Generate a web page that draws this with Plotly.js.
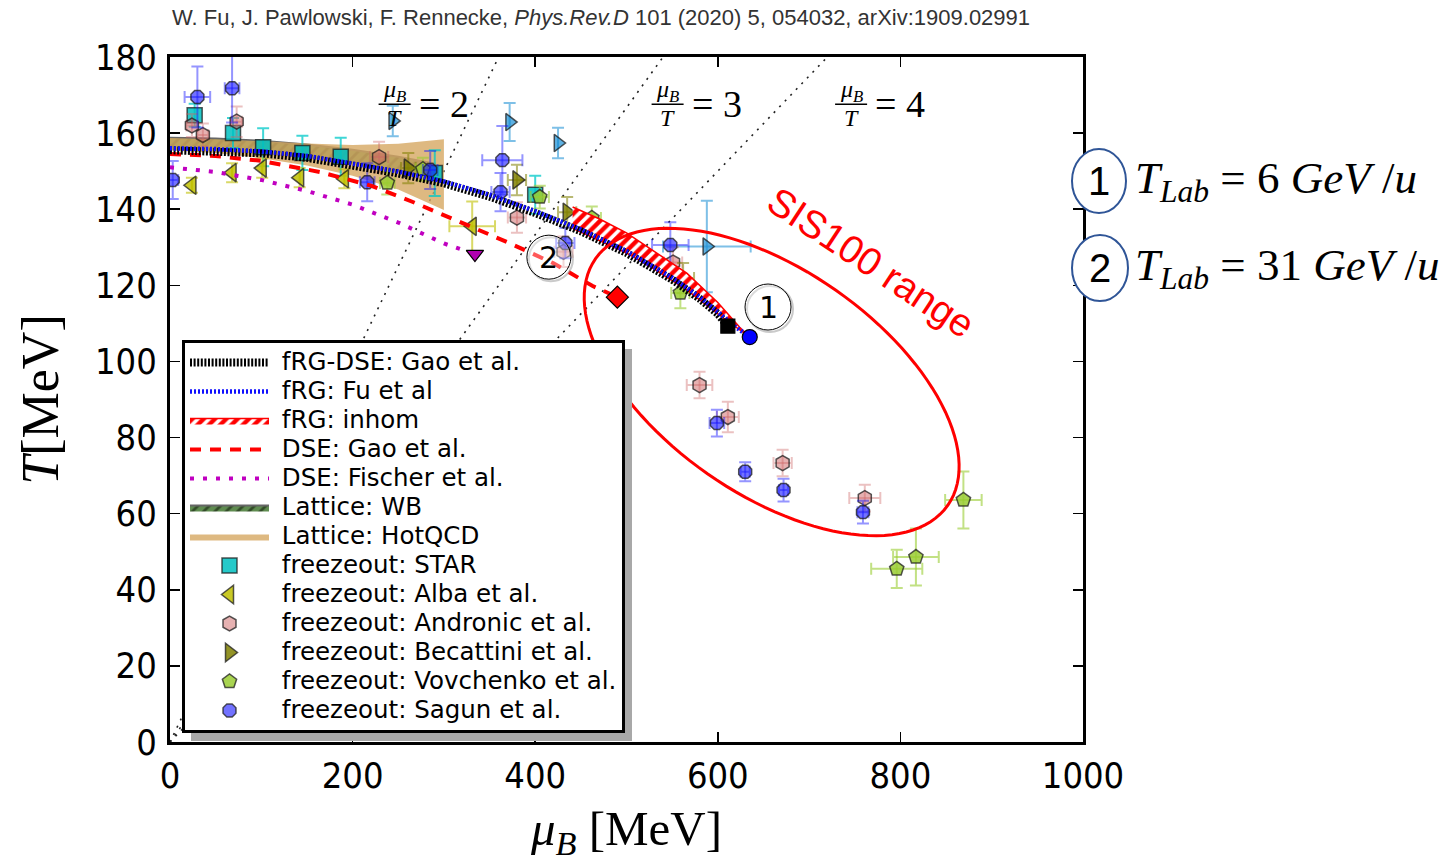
<!DOCTYPE html>
<html>
<head>
<meta charset="utf-8">
<script src="https://cdn.plot.ly/plotly-3.0.1.min.js"></script>
<style>
html, body { margin: 0; padding: 0; background: #fff; }
#chart { width: 1454px; height: 863px; }
</style>
</head>
<body>
<div id="chart"></div>
<script>
// ---------- phase boundary curves (mu_B in MeV, T in MeV) ----------
const frgDseMu = [0, 50, 100, 150, 200, 250, 300, 350, 400, 450, 500, 550, 580, 600, 611];
const frgDseT  = [155.5, 155.3, 154.7, 153.5, 151.5, 149.4, 146.8, 143.3, 139.0, 134.2, 128.5, 121.5, 116.5, 112.5, 109.3];

const frgFuMu = [0, 50, 100, 150, 200, 250, 300, 350, 400, 450, 500, 550, 580, 600, 620, 635];
const frgFuT  = [156.0, 155.8, 155.2, 154.0, 152.0, 149.9, 147.3, 143.8, 139.5, 134.7, 129.0, 122.0, 117.0, 113.0, 109.0, 106.4];

// inhomogeneous region band
const inhomMu     = [441, 470, 500, 530, 566, 600, 624, 635];
const inhomTUpper = [140.6, 137.5, 133.8, 129.0, 123.2, 115.5, 109.0, 106.4];
const inhomTLower = [135.0, 131.9, 128.5, 124.3, 118.8, 112.5, 108.3, 106.4];

const dseGaoMu = [0, 50, 100, 164, 220, 266, 318, 369, 420, 463, 490];
const dseGaoT  = [154.5, 154.0, 152.7, 149.8, 146.2, 141.9, 136.6, 131.4, 125.8, 119.8, 116.9];

const dseFischerMu = [0, 50, 100, 150, 200, 250, 300, 334];
const dseFischerT  = [151.0, 149.8, 147.7, 144.8, 141.2, 136.5, 131.0, 128.2];

// lattice bands
const wbMu = [0, 50, 100, 150, 200, 250, 290];
const wbTUpper = [158.8, 158.6, 158.0, 157.0, 155.6, 153.8, 152.0];
const wbTLower = [155.8, 155.5, 154.8, 153.6, 152.0, 150.0, 148.0];

const hotqcdMu = [0, 50, 100, 150, 200, 250, 300];
const hotqcdTUpper = [158.7, 158.4, 157.9, 157.3, 156.9, 157.2, 158.4];
const hotqcdTLower = [155.4, 154.8, 153.4, 151.5, 148.8, 145.2, 139.8];

// critical end points
const cepFrgDse = [611, 109.3];
const cepFrgFu = [635, 106.4];
const cepDseGao = [490, 116.9];
const cepDseFischer = [334, 128.2];

// constant mu_B/T lines
const ratioValues = [2, 3, 4];
const ratioLabelMu = [246, 545, 746];
const ratioLabelT = 167.6;

// ---------- chemical freeze-out data ----------
const starMu = [27, 69, 102, 145, 187, 290, 400];
const starT  = [164.7, 160.0, 156.3, 154.8, 153.8, 149.5, 143.8];
const starErrT = [3, 4, 5, 4.5, 5, 6, 5];

const albaMu = [24, 68, 101, 142, 191, 331];
const albaT  = [146.3, 149.6, 150.8, 148.3, 148.0, 135.5];
const albaErrMu = [0, 0, 0, 0, 0, 25];
const albaErrT  = [2, 2.5, 2.5, 2.5, 2.5, 6.5];

const andronicMu = [24, 36, 73, 229, 380, 431, 551, 580, 611, 671, 761];
const andronicT  = [162.0, 159.5, 163.0, 153.7, 137.8, 128.8, 126.0, 93.8, 85.4, 73.3, 64.1];
const andronicErrMu = [6, 6, 6, 10, 10, 10, 10, 14, 12, 10, 17];
const andronicErrT  = [3, 3, 4, 4, 4, 4, 4, 3.5, 4, 3.5, 3.5];

const becattiniMu = [261, 380, 435, 562];
const becattiniT  = [150.8, 147.7, 139.2, 121.9];
const becattiniErrMu = [8, 10, 10, 12];
const becattiniErrT  = [4, 4, 4, 4];

const vovchenkoMu = [238, 277, 405, 462, 559, 796, 817, 869];
const vovchenkoT  = [146.9, 150.5, 143.2, 137.7, 118.0, 45.5, 48.6, 63.6];
const vovchenkoErrMu = [8, 8, 10, 10, 10, 28, 25, 20];
const vovchenkoErrT  = [3, 3, 3, 3, 4, 5, 7.5, 7.5];

const sagunMu = [3, 30, 68, 216, 285, 362, 364, 433, 548, 599, 630, 672, 759];
const sagunT  = [147.7, 169.5, 171.8, 147.1, 150.3, 144.5, 152.9, 131.1, 130.6, 83.8, 71.0, 66.2, 60.4];
const sagunErrMu = [6, 14, 8, 8, 8, 10, 22, 10, 20, 8, 5, 5, 6];
const sagunErrT  = [5, 8, 9, 5, 5, 5, 9, 4, 6, 3.5, 2.5, 3, 3];

const extraMu = [244, 372, 425, 588];
const extraT  = [163.2, 162.9, 157.4, 130.2];
const extraErrMu = [0, 0, 0, 48];
const extraErrT  = [4, 5, 4, 12];

// axis ticks
const xTicks = [0, 200, 400, 600, 800, 1000];
const yTicks = [0, 20, 40, 60, 80, 100, 120, 140, 160, 180];

// ---------- helpers ----------
const lg = s => '<span style="font-size:24.5px">\u00a0' + s + '</span>';
const band = (mu, up, lo) => ({
  x: mu.concat(mu.slice().reverse()),
  y: up.concat(lo.slice().reverse())
});

function freezeout(name, rank, mu, T, eMu, eT, symbol, fill, errColor, size) {
  const tr = {
    type: 'scatter', mode: 'markers', name: lg(name), legendrank: rank,
    x: mu, y: T,
    marker: { symbol: symbol, size: size || 15, color: fill,
              line: { color: 'rgba(30,30,30,0.75)', width: 1.5 } },
    error_y: { type: 'data', array: eT, color: errColor, thickness: 2, width: 6 }
  };
  if (eMu) tr.error_x = { type: 'data', array: eMu, color: errColor, thickness: 2, width: 6 };
  return tr;
}

const traces = [];

// constant mu_B/T guide lines
ratioValues.forEach(r => {
  traces.push({
    type: 'scatter', mode: 'lines', showlegend: false, hoverinfo: 'skip',
    x: [0, 180 * r], y: [0, 180],
    line: { color: '#222', width: 1.6, dash: '2px,6px' }
  });
});

// lattice bands
const wb = band(wbMu, wbTUpper, wbTLower);
traces.push({
  type: 'scatter', mode: 'lines', name: lg('Lattice: WB'), legendrank: 6,
  x: wb.x, y: wb.y, fill: 'toself',
  fillcolor: 'rgb(95,140,80)',
  fillpattern: { shape: '/', bgcolor: 'rgb(95,140,80)', fgcolor: 'rgb(50,75,40)', size: 8, solidity: 0.35 },
  line: { color: '#666', width: 2 }
});
const hq = band(hotqcdMu, hotqcdTUpper, hotqcdTLower);
traces.push({
  type: 'scatter', mode: 'lines', name: lg('Lattice: HotQCD'), legendrank: 7,
  x: hq.x, y: hq.y, fill: 'toself',
  fillcolor: 'rgba(214,168,98,0.8)',
  line: { color: 'rgba(214,170,100,0.0)', width: 0 }
});

// freeze-out points
traces.push(freezeout('freezeout (other)', 99, extraMu, extraT, extraErrMu, extraErrT,
  'triangle-right', 'rgba(40,150,215,0.75)', 'rgba(40,150,215,0.6)', 15));
traces[traces.length - 1].showlegend = false;
traces.push(freezeout('freezeout: STAR', 8, starMu, starT, null, starErrT,
  'square', 'rgba(0,191,191,0.85)', 'rgba(0,200,200,0.75)', 15));
traces.push(freezeout('freezeout: Alba et al.', 9, albaMu, albaT, albaErrMu, albaErrT,
  'triangle-left', 'rgba(191,191,0,0.85)', 'rgba(191,191,0,0.6)', 16));
traces.push(freezeout('freezeout: Andronic et al.', 10, andronicMu, andronicT, andronicErrMu, andronicErrT,
  'hexagon', 'rgba(205,100,100,0.5)', 'rgba(205,100,100,0.4)', 15));
traces.push(freezeout('freezeout: Becattini et al.', 11, becattiniMu, becattiniT, becattiniErrMu, becattiniErrT,
  'triangle-right', 'rgba(128,128,0,0.85)', 'rgba(128,128,0,0.55)', 16));
traces.push(freezeout('freezeout: Vovchenko et al.', 12, vovchenkoMu, vovchenkoT, vovchenkoErrMu, vovchenkoErrT,
  'pentagon', 'rgba(154,205,50,0.85)', 'rgba(154,205,50,0.6)', 15));
traces.push(freezeout('freezeout: Sagun et al.', 13, sagunMu, sagunT, sagunErrMu, sagunErrT,
  'octagon', 'rgba(20,20,255,0.6)', 'rgba(20,20,255,0.45)', 14));

// inhomogeneous band
const ih = band(inhomMu, inhomTUpper, inhomTLower);
traces.push({
  type: 'scatter', mode: 'lines', name: lg('fRG: inhom'), legendrank: 3,
  x: ih.x, y: ih.y, fill: 'toself',
  fillcolor: 'red',
  fillpattern: { shape: '/', bgcolor: 'red', fgcolor: 'white', size: 8, solidity: 0.45 },
  line: { color: 'red', width: 1.5 }
});

// model curves
traces.push({
  type: 'scatter', mode: 'lines', name: lg('DSE: Gao et al.'), legendrank: 4,
  x: dseGaoMu, y: dseGaoT, line: { color: 'red', width: 4, dash: '11px,9px' }
});
traces.push({
  type: 'scatter', mode: 'lines', name: lg('DSE: Fischer et al.'), legendrank: 5,
  x: dseFischerMu, y: dseFischerT, line: { color: '#c000c0', width: 4, dash: '4px,9px' }
});
traces.push({
  type: 'scatter', mode: 'lines', name: lg('fRG-DSE: Gao et al.'), legendrank: 1,
  x: frgDseMu, y: frgDseT, line: { color: 'black', width: 8, dash: '2px,1.6px' }
});
traces.push({
  type: 'scatter', mode: 'lines', name: lg('fRG: Fu et al'), legendrank: 2,
  x: frgFuMu, y: frgFuT, line: { color: '#1010ff', width: 4.5, dash: '2px,2px' }
});

// critical end points
const cep = (p, symbol, color, size) => ({
  type: 'scatter', mode: 'markers', showlegend: false, x: [p[0]], y: [p[1]],
  marker: { symbol: symbol, size: size, color: color, line: { color: 'black', width: 1.2 } }
});
traces.push(cep(cepDseFischer, 'triangle-down', '#b000b0', 15));
traces.push(cep(cepDseGao, 'diamond', 'red', 17));
traces.push(cep(cepFrgDse, 'square', 'black', 14));
traces.push(cep(cepFrgFu, 'circle', 'blue', 15));

// ---------- geometry helpers for annotation shapes ----------
const plotL = 170, plotT = 57, plotW = 913, plotH = 685;
const xMax = 1000, yMax = 180;
const pxPerMu = plotW / xMax, pxPerT = plotH / yMax;

// SIS100 ellipse: centre in data units, axes in pixels, rotation clockwise on screen
const sisCenter = [659, 94.6];
const sisSemiMajorPx = 215, sisSemiMinorPx = 112, sisAngleDeg = 35;
let sisPath = '';
for (let i = 0; i <= 120; i++) {
  const t = 2 * Math.PI * i / 120, th = sisAngleDeg * Math.PI / 180;
  const px = sisSemiMajorPx * Math.cos(t) * Math.cos(th) - sisSemiMinorPx * Math.sin(t) * Math.sin(th);
  const py = sisSemiMajorPx * Math.cos(t) * Math.sin(th) + sisSemiMinorPx * Math.sin(t) * Math.cos(th);
  sisPath += (i ? ' L ' : 'M ') + (sisCenter[0] + px / pxPerMu).toFixed(2) + ',' + (sisCenter[1] - py / pxPerT).toFixed(2);
}
sisPath += ' Z';

const paperX = px => (px - plotL) / plotW;
const paperY = py => (plotT + plotH - py) / plotH;

const shapes = [
  { type: 'path', xref: 'x', yref: 'y', path: sisPath, line: { color: 'red', width: 3 }, layer: 'above' },
  // legend drop shadow
  { type: 'rect', xref: 'paper', yref: 'paper', x0: paperX(191), x1: paperX(632), y0: paperY(741), y1: paperY(349),
    fillcolor: '#a8a8a8', line: { width: 0 }, layer: 'above' }
];

// circled markers inside the plot
const circled = [
  { mu: 415, T: 127.4, r: 22, label: '2' },
  { mu: 655, T: 114.3, r: 23, label: '1' }
];
circled.forEach(c => {
  shapes.push({ type: 'circle', xref: 'x', yref: 'y', xsizemode: 'pixel', ysizemode: 'pixel',
    xanchor: c.mu, yanchor: c.T, x0: -c.r + 2, x1: c.r + 2, y0: -c.r - 2, y1: c.r - 2,
    line: { color: 'rgba(150,150,150,0.5)', width: 2 }, fillcolor: 'rgba(0,0,0,0)', layer: 'above' });
  shapes.push({ type: 'circle', xref: 'x', yref: 'y', xsizemode: 'pixel', ysizemode: 'pixel',
    xanchor: c.mu, yanchor: c.T, x0: -c.r, x1: c.r, y0: -c.r, y1: c.r,
    line: { color: 'black', width: 1 }, fillcolor: 'rgba(255,255,255,0.35)', layer: 'above' });
});

// fraction bars for the mu_B/T labels
ratioLabelMu.forEach(m => {
  shapes.push({ type: 'line', xref: 'x', yref: 'y', xsizemode: 'pixel', xanchor: m, x0: -16, x1: 16,
    y0: ratioLabelT, y1: ratioLabelT, line: { color: 'black', width: 1.5 }, layer: 'above' });
});

// side key ellipses
const sideKeys = [
  { cx: 1099, cy: 181, rx: 27, ry: 32, num: '1', text: '<i>T</i><sub><i>Lab</i></sub> = 6 <i>GeV</i> /<i>u</i>' },
  { cx: 1100, cy: 268, rx: 28, ry: 33, num: '2', text: '<i>T</i><sub><i>Lab</i></sub> = 31 <i>GeV</i> /<i>u</i>' }
];
sideKeys.forEach(k => {
  shapes.push({ type: 'circle', xref: 'paper', yref: 'paper', xsizemode: 'pixel', ysizemode: 'pixel',
    xanchor: paperX(k.cx), yanchor: paperY(k.cy), x0: -k.rx, x1: k.rx, y0: -k.ry, y1: k.ry,
    line: { color: '#2f5597', width: 2 }, fillcolor: 'white', layer: 'above' });
});

const serif = 'Liberation Serif, DejaVu Serif, serif';
const annotations = [
  { xref: 'paper', yref: 'paper', x: 0, y: paperY(17), xanchor: 'left', yanchor: 'middle', showarrow: false,
    text: 'W. Fu, J. Pawlowski, F. Rennecke, <i>Phys.Rev.D</i> 101 (2020) 5, 054032, arXiv:1909.02991',
    font: { family: 'Liberation Sans, Arial, sans-serif', size: 22, color: '#333' } },
  { xref: 'x', yref: 'y', x: 768, y: 126.1, showarrow: false, text: 'SIS100 range', textangle: 33.5,
    xanchor: 'center', yanchor: 'middle',
    font: { family: 'Liberation Sans, Arial, sans-serif', size: 39, color: 'red' } }
];
ratioLabelMu.forEach((m, i) => {
  annotations.push({ xref: 'x', yref: 'y', x: m, y: ratioLabelT, yshift: 13, showarrow: false,
    xanchor: 'center', yanchor: 'middle',
    text: '<i>μ<sub>B</sub></i>', font: { family: serif, size: 24, color: 'black' } });
  annotations.push({ xref: 'x', yref: 'y', x: m, y: ratioLabelT, yshift: -14, showarrow: false,
    xanchor: 'center', yanchor: 'middle',
    text: '<i>T</i>', font: { family: serif, size: 24, color: 'black' } });
  annotations.push({ xref: 'x', yref: 'y', x: m, y: ratioLabelT, xshift: 22, xanchor: 'left', yanchor: 'middle',
    showarrow: false, text: '= ' + ratioValues[i], font: { family: serif, size: 38, color: 'black' } });
});
circled.forEach(c => {
  annotations.push({ xref: 'x', yref: 'y', x: c.mu, y: c.T, showarrow: false, text: c.label,
    xanchor: 'center', yanchor: 'middle',
    font: { family: 'DejaVu Sans, sans-serif', size: 30, color: 'black' } });
});
sideKeys.forEach(k => {
  annotations.push({ xref: 'paper', yref: 'paper', x: paperX(k.cx), y: paperY(k.cy), showarrow: false,
    xanchor: 'center', yanchor: 'middle',
    text: k.num, font: { family: 'Liberation Sans, sans-serif', size: 40, color: 'black' } });
  annotations.push({ xref: 'paper', yref: 'paper', x: paperX(1133), y: paperY(k.cy), xanchor: 'left', yanchor: 'middle',
    showarrow: false, text: k.text, font: { family: serif, size: 45, color: 'black' } });
});

const tickFont = { family: 'DejaVu Sans Condensed, DejaVu Sans, sans-serif', size: 36, color: 'black' };
const layout = {
  width: 1454, height: 863,
  margin: { l: plotL, r: 1454 - plotL - plotW, t: plotT, b: 863 - plotT - plotH, pad: 0 },
  paper_bgcolor: 'white', plot_bgcolor: 'white',
  showlegend: true,
  xaxis: {
    range: [0, xMax], tickvals: xTicks, ticktext: xTicks.map(String),
    ticks: 'inside', ticklen: 10, tickwidth: 1.5, tickcolor: 'black',
    showline: true, linewidth: 3, linecolor: 'black', mirror: 'ticks',
    showgrid: false, zeroline: false, tickfont: tickFont,
    title: { text: '<i>μ<sub>B</sub></i> [MeV]', font: { family: serif, size: 49, color: 'black' }, standoff: 16 }
  },
  yaxis: {
    range: [0, yMax], tickvals: yTicks, ticktext: yTicks.map(String),
    ticks: 'inside', ticklen: 10, tickwidth: 1.5, tickcolor: 'black',
    showline: true, linewidth: 3, linecolor: 'black', mirror: 'ticks',
    showgrid: false, zeroline: false, tickfont: tickFont, ticklabelstandoff: 3,
    title: { text: '<i>T</i>[MeV]', font: { family: serif, size: 52, color: 'black' }, standoff: 20 }
  },
  legend: {
    x: paperX(182), y: paperY(340), xanchor: 'left', yanchor: 'top',
    bgcolor: 'white', bordercolor: 'black', borderwidth: 3,
    font: { family: 'DejaVu Sans, sans-serif', size: 20, color: 'black' },
    itemwidth: 79, traceorder: 'normal', tracegroupgap: 0
  },
  shapes: shapes,
  annotations: annotations
};

Plotly.newPlot('chart', traces, layout, { displayModeBar: false, staticPlot: true });
</script>
</body>
</html>
